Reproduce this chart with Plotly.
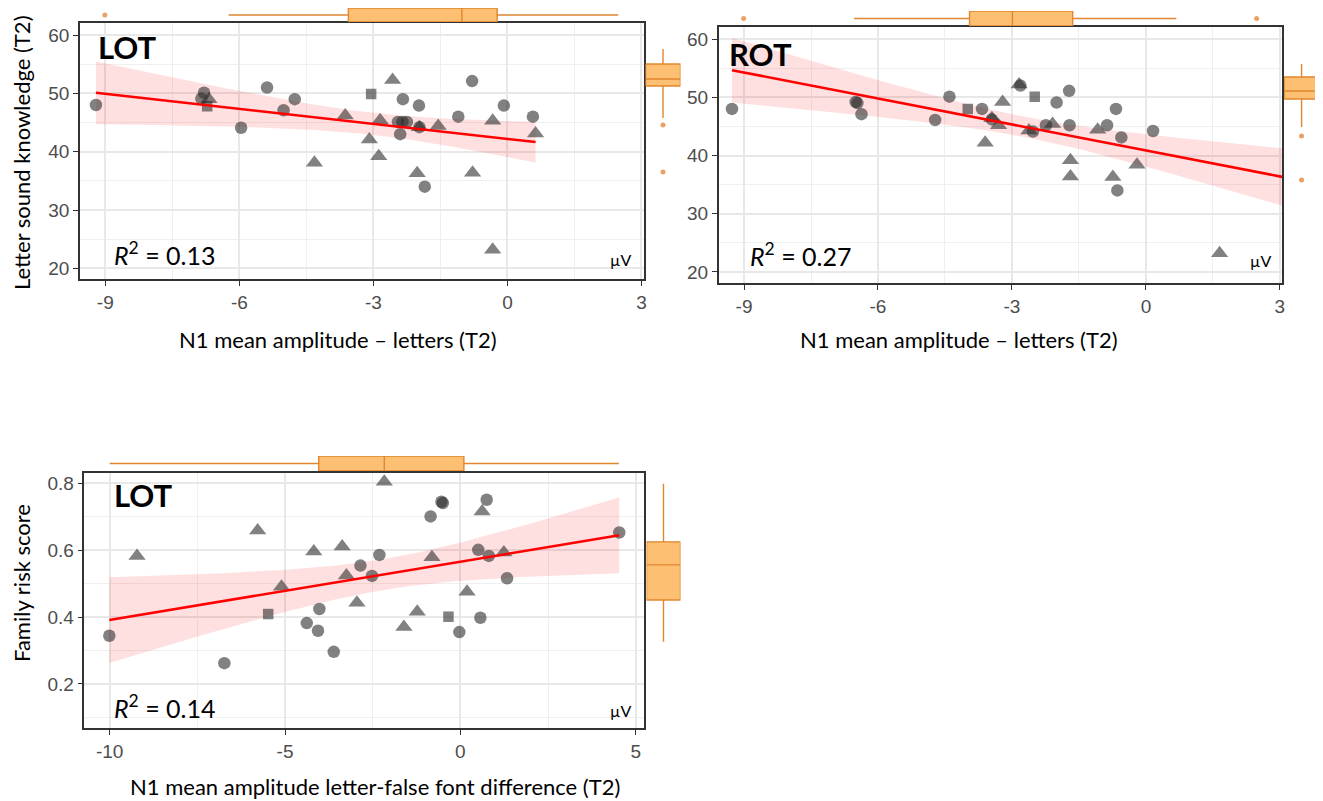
import numpy as np
import plotly.graph_objects as go

W, H = 1323, 801
OFF = 8  # page body margin of the written html page

# ---------------- data ----------------
# Panel A: LOT, letter sound knowledge (T2) vs N1 letters (T2)
a_x = [-9.21, -6.79, -6.85, -6.68, -6.72, -5.96, -5.38, -5.01, -4.76, -4.32, -3.63, -3.05,
       -3.09, -2.85, -2.88, -2.57, -2.34, -2.45, -2.35, -2.25, -2.40, -1.98, -1.97, -1.97,
       -1.55, -2.02, -1.85, -1.10, -0.79, -0.78, -0.33, -0.08, -0.33, 0.57, 0.63]
a_y = [48.0, 50.1, 49.1, 49.0, 47.8, 44.1, 51.0, 47.1, 49.0, 38.1, 46.2, 49.9,
       42.1, 45.4, 39.2, 52.3, 49.0, 45.1, 45.1, 45.1, 43.0, 47.9, 44.2, 44.2,
       44.4, 36.3, 34.0, 46.0, 52.1, 36.4, 45.3, 47.9, 23.2, 46.0, 43.1]
a_g = ["c", "c", "c", "t", "s", "c", "c", "c", "c", "t", "t", "s",
       "t", "t", "t", "t", "c", "c", "c", "c", "c", "c", "t", "c",
       "t", "t", "c", "c", "c", "t", "t", "c", "t", "c", "t"]

# Panel B: ROT, letter sound knowledge (T2) vs N1 letters (T2)
b_x = [-9.27, -6.50, -6.46, -6.37, -4.72, -4.40, -3.99, -3.67, -3.60, -3.45, -3.45, -3.30,
       -3.21, -2.81, -2.84, -2.49, -2.62, -2.53, -2.24, -2.09, -2.00, -1.72, -1.71, -1.69,
       -1.69, -1.08, -0.87, -0.67, -0.74, -0.64, -0.55, -0.20, 0.16, 1.65]
b_y = [48.0, 49.2, 49.0, 47.1, 46.1, 50.1, 48.0, 48.0, 42.2, 46.2, 46.4, 45.2,
       49.2, 52.0, 52.2, 50.1, 44.3, 44.1, 45.2, 45.4, 49.1, 51.1, 45.2, 39.2,
       36.4, 44.4, 45.2, 48.0, 36.3, 34.0, 43.1, 38.4, 44.2, 23.2]
b_g = ["c", "c", "c", "c", "c", "c", "s", "c", "t", "c", "t", "t",
       "t", "c", "t", "s", "t", "c", "c", "t", "c", "c", "c", "t",
       "t", "t", "c", "c", "t", "c", "c", "t", "c", "t"]

# Panel C: LOT, family risk score vs N1 letter-false font difference (T2)
c_x = [-10.01, -9.22, -6.73, -5.78, -5.48, -5.10, -4.38, -4.18, -4.02, -4.06, -3.61, -3.37,
       -3.25, -2.95, -2.85, -2.52, -2.31, -2.17, -0.85, -0.54, -0.50, -0.81, -1.23, -1.61,
       -0.34, -0.03, 0.19, 0.51, 0.57, 0.62, 0.75, 0.81, 1.24, 1.33, 4.53]
c_y = [0.344, 0.583, 0.262, 0.659, 0.409, 0.491, 0.382, 0.596, 0.424, 0.359, 0.296, 0.611,
       0.524, 0.443, 0.554, 0.523, 0.586, 0.805, 0.701, 0.745, 0.741, 0.579, 0.416, 0.370,
       0.401, 0.355, 0.476, 0.601, 0.398, 0.716, 0.751, 0.583, 0.593, 0.516, 0.653]
c_g = ["c", "t", "c", "t", "s", "t", "c", "t", "c", "c", "c", "t",
       "t", "t", "c", "c", "c", "t", "c", "c", "c", "t", "t", "t",
       "s", "c", "t", "c", "c", "t", "c", "c", "t", "c", "c"]

# marginal box plot statistics (lowerfence, q1, median, q3, upperfence) and outliers
a_topbox = [-6.24, -3.56, -1.02, -0.23, 2.48]
a_topout = [-9.01]
a_rightbox = [45.77, 51.26, 52.46, 55.03, 57.6]
a_rightout = [44.57, 36.51]

b_topbox = [-6.54, -3.95, -2.99, -1.64, 0.68]
b_topout = [-9.01, 2.48]
b_rightbox = [44.89, 49.70, 51.07, 53.48, 55.71]
b_rightout = [43.35, 35.79]

c_topbox = [-10.0, -4.04, -2.17, 0.10, 4.52]
c_topout = []
c_rightbox = [0.326, 0.451, 0.556, 0.625, 0.799]
c_rightout = []

r2_labels = ["0.13", "0.27", "0.14"]
panel_labels = ["LOT", "ROT", "LOT"]
x_titles = ["N1 mean amplitude \u2013 letters (T2)", "N1 mean amplitude \u2013 letters (T2)",
            "N1 mean amplitude letter-false font difference (T2)"]
y_titles = ["Letter sound knowledge (T2)", None, "Family risk score"]
unit_label = "\u00b5V"

# ---------------- geometry (page pixels) ----------------
panels = [
    dict(x=a_x, y=a_y, g=a_g, topbox=a_topbox, topout=a_topout, rbox=a_rightbox, rout=a_rightout,
         px=(80, 645.6), py=(23, 279), xr=[-9.57, 3.06], yr=[18.17, 62.06],
         xt=[-9, -6, -3, 0, 3], yt=[20, 30, 40, 50, 60], xminor=1.5, yminor=5,
         top_py=(7, 22), right_px=(647, 682), fullrange=False),
    dict(x=b_x, y=b_y, g=b_g, topbox=b_topbox, topout=b_topout, rbox=b_rightbox, rout=b_rightout,
         px=(720.2, 1285), py=(27, 283), xr=[-9.57, 3.05], yr=[18.11, 62.06],
         xt=[-9, -6, -3, 0, 3], yt=[20, 30, 40, 50, 60], xminor=1.5, yminor=5,
         top_py=(11, 26), right_px=(1287, 1322), fullrange=True),
    dict(x=c_x, y=c_y, g=c_g, topbox=c_topbox, topout=c_topout, rbox=c_rightbox, rout=c_rightout,
         px=(84.6, 645.6), py=(473, 728), xr=[-10.72, 5.24], yr=[0.068, 0.831],
         xt=[-10, -5, 0, 5], yt=[0.2, 0.4, 0.6, 0.8], xminor=2.5, yminor=0.1,
         top_py=(456, 471), right_px=(648, 682), fullrange=False),
]

def fx(p):
    return min(max((p - OFF) / W, 0.0), 1.0)

def fy(p):
    return min(max(1 - (p - OFF) / H, 0.0), 1.0)

SYM = {"c": "circle", "t": "triangle-up", "s": "square"}
SIZE = {"c": 12.5, "t": 15, "s": 10.5}
PT_COLOR = "rgba(45,45,45,0.6)"
BOX_FILL = "#FDBF72"
BOX_LINE = "#E0872F"
OUT_COLOR = "#E9A266"
GRID = "#E8E8E8"
TICKFONT = dict(family="Liberation Sans, Arial, sans-serif", size=19, color="#4D4D4D")
TXT = "Lato, Open Sans, sans-serif"

fig = go.Figure()
layout = dict(width=W, height=H, margin=dict(l=0, r=0, t=0, b=0),
              paper_bgcolor="white", plot_bgcolor="white", showlegend=False)
annotations = []

def axname(s):
    return "xaxis" + s[1:] if s[0] == "x" else "yaxis" + s[1:]

for i, p in enumerate(panels):
    k = 3 * i
    xm, ym = f"x{k+1}", f"y{k+1}"
    xt_, yt_ = f"x{k+2}", f"y{k+2}"
    xr_, yr_ = f"x{k+3}", f"y{k+3}"
    xd = [fx(p["px"][0]), fx(p["px"][1])]
    yd = [fy(p["py"][1]), fy(p["py"][0])]

    common = dict(showline=True, linecolor="#333333", linewidth=1.5, mirror=True,
                  ticks="outside", ticklen=5, tickwidth=1.2, tickcolor="#333333",
                  showgrid=True, gridcolor=GRID, gridwidth=2, zeroline=False,
                  tickfont=TICKFONT)
    layout[axname(xm)] = dict(common, domain=xd, range=p["xr"], anchor=ym,
                              tickvals=p["xt"], ticktext=[f"{v:g}" for v in p["xt"]],
                              minor=dict(dtick=p["xminor"], tick0=0, showgrid=True,
                                         gridcolor="#EFEFEF", gridwidth=1.3, ticks=""))
    layout[axname(ym)] = dict(common, domain=yd, range=p["yr"], anchor=xm,
                              tickvals=p["yt"], ticktext=[f"{v:g}" for v in p["yt"]],
                              minor=dict(dtick=p["yminor"], tick0=0, showgrid=True,
                                         gridcolor="#EFEFEF", gridwidth=1.3, ticks=""))
    # top marginal
    layout[axname(xt_)] = dict(domain=xd, range=p["xr"], visible=False, anchor=yt_)
    layout[axname(yt_)] = dict(domain=[fy(p["top_py"][1]), fy(p["top_py"][0])],
                               range=[-0.5, 0.5], visible=False, anchor=xt_)
    # right marginal
    layout[axname(xr_)] = dict(domain=[fx(p["right_px"][0]), fx(p["right_px"][1])],
                               range=[-0.5, 0.5], visible=False, anchor=yr_)
    layout[axname(yr_)] = dict(domain=yd, range=p["yr"], visible=False, anchor=xr_)

    # regression + CI (computed from data)
    x = np.array(p["x"]); y = np.array(p["y"])
    n = len(x)
    b1, b0 = np.polyfit(x, y, 1)
    resid = y - (b0 + b1 * x)
    s = np.sqrt(np.sum(resid ** 2) / (n - 2))
    xbar = x.mean(); sxx = np.sum((x - xbar) ** 2)
    df = n - 2
    z = 1.959964
    tcrit = z + (z ** 3 + z) / (4 * df)
    xend = p["xr"][1] if p["fullrange"] else x.max()
    xs = np.linspace(x.min(), xend, 100)
    yh = b0 + b1 * xs
    se = s * np.sqrt(1 / n + (xs - xbar) ** 2 / sxx)
    up, lo = yh + tcrit * se, yh - tcrit * se

    fig.add_trace(go.Scatter(x=np.concatenate([xs, xs[::-1]]), y=np.concatenate([up, lo[::-1]]),
                             fill="toself", fillcolor="rgba(255,0,0,0.12)", line=dict(width=0),
                             mode="lines", hoverinfo="skip", xaxis=xm, yaxis=ym))
    for grp in ["c", "t", "s"]:
        idx = [j for j, g in enumerate(p["g"]) if g == grp]
        fig.add_trace(go.Scatter(x=[p["x"][j] for j in idx], y=[p["y"][j] for j in idx],
                                 mode="markers", xaxis=xm, yaxis=ym,
                                 marker=dict(symbol=SYM[grp], size=SIZE[grp], color=PT_COLOR,
                                             line=dict(width=0))))
    fig.add_trace(go.Scatter(x=xs, y=yh, mode="lines", line=dict(color="#FF0000", width=2.6),
                             xaxis=xm, yaxis=ym))

    # marginal boxes
    tb = p["topbox"]
    fig.add_trace(go.Box(orientation="h", y=[0], lowerfence=[tb[0]], q1=[tb[1]], median=[tb[2]],
                         q3=[tb[3]], upperfence=[tb[4]], width=1, whiskerwidth=0,
                         fillcolor=BOX_FILL, line=dict(color=BOX_LINE, width=1.4),
                         boxpoints=False, xaxis=xt_, yaxis=yt_))
    if p["topout"]:
        fig.add_trace(go.Scatter(x=p["topout"], y=[0] * len(p["topout"]), mode="markers",
                                 marker=dict(color=OUT_COLOR, size=5), cliponaxis=False,
                                 xaxis=xt_, yaxis=yt_))
    rb = p["rbox"]
    fig.add_trace(go.Box(x=[0], lowerfence=[rb[0]], q1=[rb[1]], median=[rb[2]],
                         q3=[rb[3]], upperfence=[rb[4]], width=1, whiskerwidth=0,
                         fillcolor=BOX_FILL, line=dict(color=BOX_LINE, width=1.4),
                         boxpoints=False, xaxis=xr_, yaxis=yr_))
    if p["rout"]:
        fig.add_trace(go.Scatter(x=[0] * len(p["rout"]), y=p["rout"], mode="markers",
                                 marker=dict(color=OUT_COLOR, size=5), cliponaxis=False,
                                 xaxis=xr_, yaxis=yr_))

# ---------------- text ----------------
def ann(text, x, y, size, xanchor="left", yanchor="middle", bold=False, angle=0, family=TXT, color="black"):
    annotations.append(dict(text=f"<b>{text}</b>" if bold else text, x=fx(x), y=fy(y),
                            xref="paper", yref="paper", showarrow=False, xanchor=xanchor,
                            yanchor=yanchor, textangle=angle,
                            font=dict(family=family, size=size, color=color)))

label_pos = [(96, 47), (729, 54), (112, 495)]
r2_pos = [(112, 254), (750, 255), (112, 706)]
unit_pos = [(634, 259), (1276, 260), (634, 710)]
xt_pos = [(339, 339), (961, 339), (376, 786)]
yt_pos = [(21, 153), None, (21, 583)]

for i in range(3):
    ann(panel_labels[i], *label_pos[i], 31, bold=True)
    ann(f"<i>R</i><sup>2</sup> = {r2_labels[i]}", *r2_pos[i], 25)
    ann(unit_label, *unit_pos[i], 16, xanchor="right")
    ann(x_titles[i], *xt_pos[i], 22, xanchor="center")
    if y_titles[i]:
        ann(y_titles[i], *yt_pos[i], 22, xanchor="center", angle=-90)

layout["annotations"] = annotations
fig.update_layout(**layout)
fig.write_html("out.html")
